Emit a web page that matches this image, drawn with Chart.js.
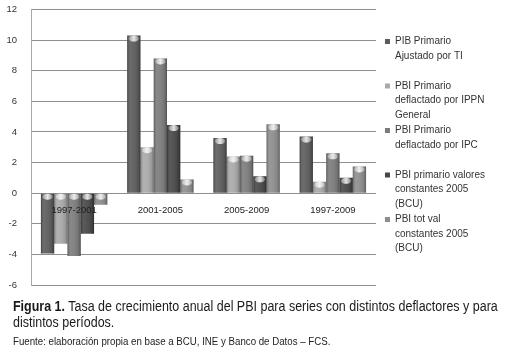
<!DOCTYPE html>
<html>
<head>
<meta charset="utf-8">
<script src="https://cdn.jsdelivr.net/npm/chart.js@4/dist/chart.umd.min.js"></script>
<style>
  html, body { margin: 0; padding: 0; background: #fff; }
  #wrap { position: relative; width: 510px; height: 354px; overflow: hidden; }
  #chartBox { position: absolute; left: 0; top: 0; width: 510px; height: 300px; }
  #chartBox canvas { display: block; }
  .cap { position: absolute; left: 13px; color: #1a1a1a; white-space: nowrap; transform-origin: 0 0; }
  #cap1, #cap2 { font-family: "Liberation Sans", Arial, sans-serif; font-size: 14px; line-height: 16px; }
  #cap1 { top: 298px; }
  #cap2 { top: 314px; }
  #cap3 { top: 335.5px; font-family: "Liberation Sans", Arial, sans-serif; font-size: 10px; line-height: 12px; color: #222; }
</style>
</head>
<body>
<div id="wrap">
  <div id="chartBox"><canvas id="c" width="510" height="300"></canvas></div>
  <div class="cap" id="cap1"><b>Figura 1.</b> Tasa de crecimiento anual del PBI para series con distintos deflactores y para</div>
  <div class="cap" id="cap2">distintos períodos.</div>
  <div class="cap" id="cap3">Fuente: elaboración propia en base a BCU, INE y Banco de Datos – FCS.</div>
</div>
<script>
// ---- data ----
const categories = ["1997-2001", "2001-2005", "2005-2009", "1997-2009"];
const seriesNames = [
  "PIB Primario Ajustado por TI",
  "PBI Primario deflactado por IPPN General",
  "PBI Primario deflactado por IPC",
  "PBI primario valores constantes 2005 (BCU)",
  "PBI tot val constantes 2005 (BCU)"
];
const seriesLegendLines = [
  ["PIB Primario", "Ajustado por TI", ""],
  ["PBI Primario", "deflactado por IPPN", "General"],
  ["PBI Primario", "deflactado por IPC", ""],
  ["PBI primario valores", "constantes 2005", "(BCU)"],
  ["PBI tot val", "constantes 2005", "(BCU)"]
];
const pibAjustadoTI      = [-3.95, 10.3, 3.6, 3.7];
const pbiDeflIPPN        = [-3.3, 3.0, 2.4, 0.75];
const pbiDeflIPC         = [-4.1, 8.8, 2.45, 2.6];
const pbiConstantes2005  = [-2.65, 4.45, 1.1, 1.0];
const pbiTotConstantes   = [-0.75, 0.9, 4.5, 1.75];
const yTicks = [-6, -4, -2, 0, 2, 4, 6, 8, 10, 12];

const seriesValues = [pibAjustadoTI, pbiDeflIPPN, pbiDeflIPC, pbiConstantes2005, pbiTotConstantes];
const seriesColors = ["#5b5b5b", "#a9a9a9", "#7b7b7b", "#474747", "#8d8d8d"];

// fit caption lines to the reference width
(function () {
  const c1 = document.getElementById("cap1"), c2 = document.getElementById("cap2"), c3 = document.getElementById("cap3");
  const s = 485 / c1.offsetWidth;
  c1.style.transform = c2.style.transform = "scaleX(" + s + ")";
  c3.style.transform = "scaleX(" + (317 / c3.offsetWidth) + ")";
})();

// cylinder-like shading overlay drawn over each bar the library placed
const barShade = {
  id: "barShade",
  afterDatasetsDraw(chart) {
    const ctx = chart.ctx;
    chart.data.datasets.forEach((ds, di) => {
      const meta = chart.getDatasetMeta(di);
      meta.data.forEach(el => {
        const left = el.x - el.width / 2, right = el.x + el.width / 2;
        const top = Math.min(el.y, el.base), bottom = Math.max(el.y, el.base);
        const g = ctx.createLinearGradient(left, 0, right, 0);
        g.addColorStop(0, "rgba(0,0,0,0.28)");
        g.addColorStop(0.25, "rgba(255,255,255,0.10)");
        g.addColorStop(0.5, "rgba(255,255,255,0.06)");
        g.addColorStop(0.85, "rgba(0,0,0,0.10)");
        g.addColorStop(1, "rgba(0,0,0,0.35)");
        ctx.save();
        ctx.fillStyle = g;
        ctx.fillRect(left, top, right - left, bottom - top);
        const capH = Math.min(3, (bottom - top) / 2);
        const cg = ctx.createLinearGradient(left, 0, right, 0);
        cg.addColorStop(0, "rgba(255,255,255,0.15)");
        cg.addColorStop(0.5, "rgba(255,255,255,0.85)");
        cg.addColorStop(1, "rgba(255,255,255,0.15)");
        ctx.fillStyle = cg;
        ctx.beginPath();
        ctx.ellipse(el.x, top + capH, (right - left) / 2 - 1.5, capH, 0, 0, Math.PI * 2);
        ctx.fill();
        ctx.restore();
      });
    });
  }
};

// nudge the legend box away from the plot area
const legendShift = {
  id: "legendShift",
  afterLayout(chart) {
    const lg = chart.legend;
    if (lg) { lg.left += 8; lg.right += 8; lg.top += 0; lg.bottom += 0; }
  }
};

new Chart(document.getElementById("c"), {
  type: "bar",
  data: {
    labels: categories,
    datasets: seriesValues.map((vals, i) => ({
      label: seriesNames[i],
      data: vals,
      backgroundColor: seriesColors[i],
      borderWidth: 0,
      categoryPercentage: 0.77,
      barPercentage: 1.0
    }))
  },
  options: {
    responsive: false,
    animation: false,
    devicePixelRatio: 1,
    layout: { padding: { left: 0, right: 23, top: 9.5, bottom: 15 } },
    plugins: {
      tooltip: { enabled: false },
      legend: {
        position: "right",
        align: "center",
        labels: {
          boxWidth: 5,
          boxHeight: 5,
          padding: 1,
          color: "#333",
          font: { family: "'Liberation Sans', Arial, sans-serif", size: 10, lineHeight: "14.5px" },
          generateLabels(chart) {
            const items = Chart.defaults.plugins.legend.labels.generateLabels(chart);
            items.forEach((it, i) => { it.text = seriesLegendLines[i]; it.lineWidth = 0; });
            return items;
          }
        }
      }
    },
    scales: {
      x: {
        type: "category",
        position: { y: 0 },
        afterFit(scale) { scale.height = 0; },
        grid: { display: false },
        border: { display: false },
        ticks: {
          z: 1,
          color: "#222",
          padding: 4,
          maxRotation: 0,
          font: { family: "'Liberation Sans', Arial, sans-serif", size: 9.5 }
        }
      },
      y: {
        min: -6,
        max: 12,
        afterBuildTicks(scale) { scale.ticks = yTicks.map(v => ({ value: v })); },
        afterFit(scale) { scale.width = 31; },
        grid: { color: "#8f8f8f", lineWidth: 1, drawTicks: true, tickLength: 12, tickColor: "rgba(0,0,0,0)" },
        border: { display: true, color: "#a8a8a8" },
        ticks: {
          color: "#333",
          padding: 2,
          font: { family: "'Liberation Sans', Arial, sans-serif", size: 9.5 }
        }
      }
    }
  },
  plugins: [barShade, legendShift]
});
</script>
</body>
</html>
